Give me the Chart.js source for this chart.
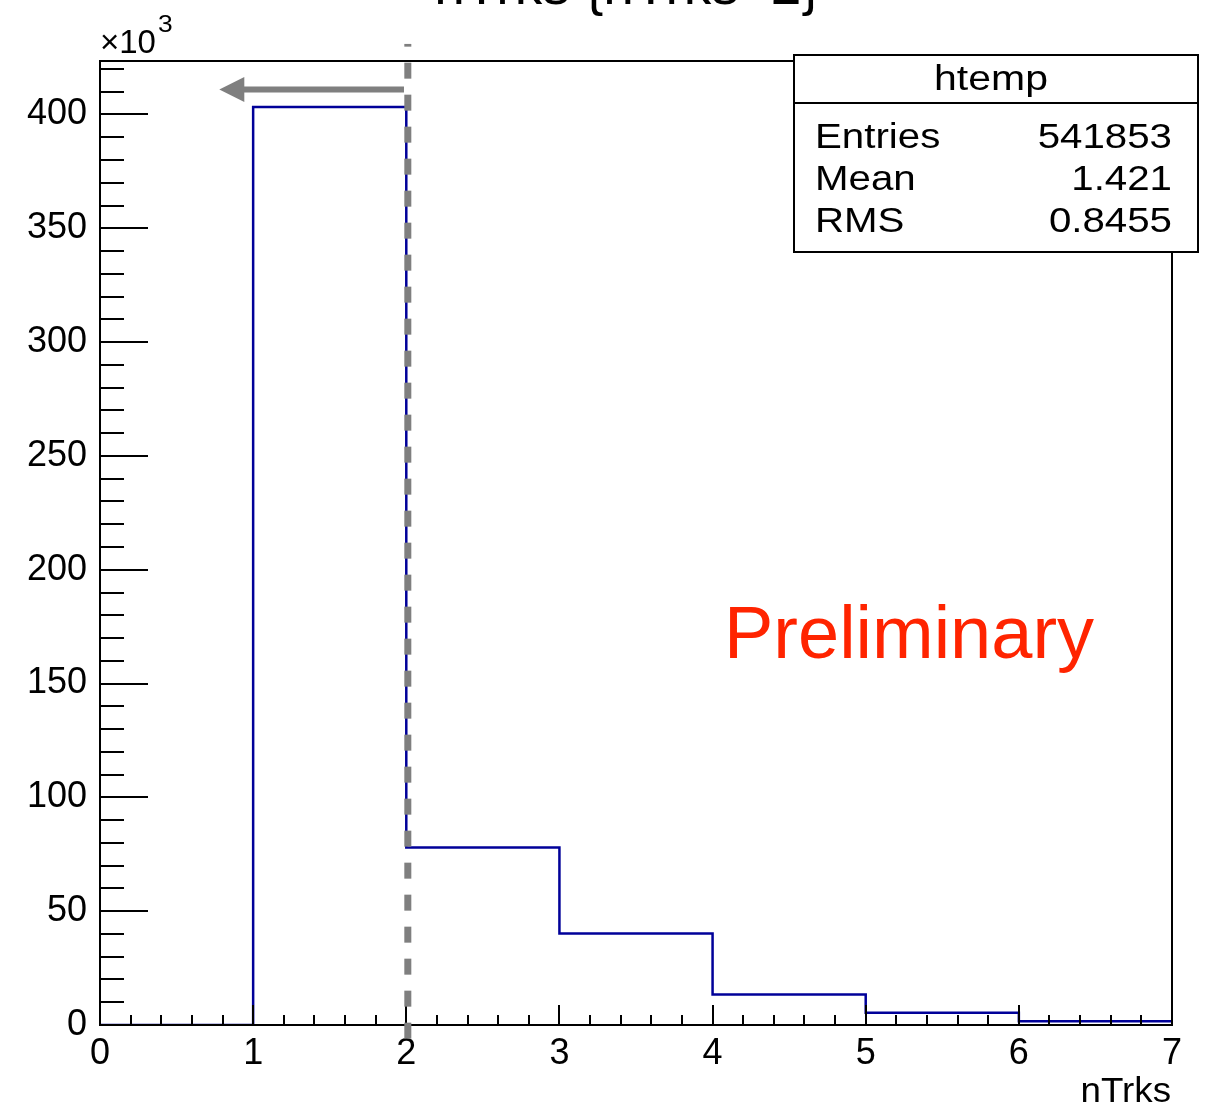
<!DOCTYPE html>
<html><head><meta charset="utf-8">
<script src="https://cdn.jsdelivr.net/npm/chart.js@4/dist/chart.umd.min.js"></script>
<style>html,body{margin:0;padding:0;background:#fff;}#wrap{width:1210px;height:1105px;}</style>
</head><body><div id="wrap"><canvas id="c" width="1210" height="1105"></canvas></div>
<script>
// ---- data ----
const binEdges = [0, 1, 2, 3, 4, 5, 6, 7];
const binCounts = [0, 403300, 78000, 40200, 13400, 5400, 1600];
const xTickLabels = ['0', '1', '2', '3', '4', '5', '6', '7'];
const yTickLabels = ['0', '50', '100', '150', '200', '250', '300', '350', '400'];
const yMax = 423500;
const yTickStep = 50000;
const yMinorStep = 10000;
const xMinorStep = 0.2;
const cutValue = 2.01;
const cutLineRange = [-6000, 431000];
const arrowXRange = [1.985, 0.779];
const arrowYValue = 411000;
const histName = 'htemp';
const statsLabels = ['Entries', 'Mean', 'RMS'];
const statsValues = ['541853', '1.421', '0.8455'];
const plotTitle = 'nTrks {nTrks<2}';
const xTitle = 'nTrks';
const yExponent = ['\u00d710', '3'];
const watermark = 'Preliminary';

// histogram outline points built from the bin arrays
const histPoints = binCounts.map((c, i) => ({x: binEdges[i], y: c}));
histPoints.push({x: binEdges[binEdges.length - 1], y: binCounts[binCounts.length - 1]});

const FONT = '"Liberation Sans", Arial, Helvetica, sans-serif';

function txt(ctx, s, x, y, size, align, sx, color) {
  ctx.save();
  ctx.font = size + 'px ' + FONT;
  ctx.fillStyle = color || '#000';
  ctx.textAlign = align;
  ctx.textBaseline = 'alphabetic';
  ctx.translate(x, y);
  ctx.scale(sx, 1);
  ctx.fillText(s, 0, 0);
  ctx.restore();
}

const decor = {
  id: 'decor',
  afterDatasetsDraw(chart) {
    const ctx = chart.ctx, a = chart.chartArea, xs = chart.scales.x, ys = chart.scales.y;
    ctx.save();
    ctx.strokeStyle = '#000';
    ctx.lineWidth = 2;
    ctx.lineCap = 'butt';
    // x ticks (inside)
    for (let i = 0; ; i++) {
      const v = xs.min + i * xMinorStep;
      if (v > xs.max + 1e-9) break;
      const px = Math.round(xs.getPixelForValue(v));
      const major = Math.abs(v - Math.round(v)) < 1e-6;
      const len = major ? 20 : 10;
      ctx.beginPath(); ctx.moveTo(px, a.bottom); ctx.lineTo(px, a.bottom - len); ctx.stroke();
    }
    // y ticks (inside)
    for (let i = 0; ; i++) {
      const v = ys.min + i * yMinorStep;
      if (v > ys.max + 1e-9) break;
      const py = Math.round(ys.getPixelForValue(v));
      const major = (i * yMinorStep) % yTickStep === 0;
      const len = major ? 48 : 24;
      ctx.beginPath(); ctx.moveTo(a.left, py); ctx.lineTo(a.left + len, py); ctx.stroke();
    }
    // frame
    ctx.strokeRect(a.left, a.top, a.right - a.left, a.bottom - a.top);
    ctx.restore();
  },
  afterDraw(chart) {
    const ctx = chart.ctx, xs = chart.scales.x, ys = chart.scales.y;
    ctx.save();
    // cut line (dashed)
    const cx = xs.getPixelForValue(cutValue);
    ctx.strokeStyle = '#7f7f7f';
    ctx.lineWidth = 7;
    ctx.setLineDash([16, 16]);
    ctx.beginPath();
    ctx.moveTo(cx, ys.getPixelForValue(cutLineRange[0]));
    ctx.lineTo(cx, ys.getPixelForValue(cutLineRange[1]));
    ctx.stroke();
    ctx.setLineDash([]);
    // arrow
    const ay = ys.getPixelForValue(arrowYValue);
    const x0 = xs.getPixelForValue(arrowXRange[0]);
    const x1 = xs.getPixelForValue(arrowXRange[1]);
    ctx.lineWidth = 6;
    ctx.beginPath(); ctx.moveTo(x0, ay); ctx.lineTo(x1 + 24, ay); ctx.stroke();
    ctx.fillStyle = '#7f7f7f';
    ctx.beginPath(); ctx.moveTo(x1, ay); ctx.lineTo(x1 + 25, ay - 12.5); ctx.lineTo(x1 + 25, ay + 12.5); ctx.closePath(); ctx.fill();
    // stats box
    const bx = 794, by = 55, bw = 404, bh = 197;
    ctx.fillStyle = '#fff';
    ctx.fillRect(bx, by, bw, bh);
    ctx.strokeStyle = '#000';
    ctx.lineWidth = 2;
    ctx.strokeRect(bx, by, bw, bh);
    ctx.beginPath(); ctx.moveTo(bx, 103); ctx.lineTo(bx + bw, 103); ctx.stroke();
    ctx.restore();
    txt(ctx, histName, 991, 90, 35, 'center', 1.17);
    const rowY = [148, 190, 232];
    statsLabels.forEach((l, i) => {
      txt(ctx, l, 815, rowY[i], 35, 'left', 1.15);
      txt(ctx, statsValues[i], 1172, rowY[i], 35, 'right', 1.15);
    });
    // title (mostly above the page)
    txt(ctx, plotTitle, 627, 4, 55, 'center', 1);
    // exponent
    txt(ctx, yExponent[0], 100, 52.7, 33, 'left', 1);
    txt(ctx, yExponent[1], 158, 31.7, 24, 'left', 1.1);
    // x axis title
    txt(ctx, xTitle, 1171, 1102, 35, 'right', 1.05);
    // watermark
    txt(ctx, watermark, 724, 658, 74, 'left', 1, '#ff2400');
  }
};

new Chart(document.getElementById('c').getContext('2d'), {
  type: 'line',
  data: {
    datasets: [{
      data: histPoints,
      stepped: 'before',
      borderColor: '#000099',
      borderWidth: 2.5,
      pointRadius: 0,
      fill: false,
      tension: 0
    }]
  },
  options: {
    responsive: false,
    animation: false,
    devicePixelRatio: 1,
    layout: {padding: {top: 61, right: 38, left: 0, bottom: 0}},
    plugins: {legend: {display: false}, tooltip: {enabled: false}, title: {display: false}},
    scales: {
      x: {
        type: 'linear', min: binEdges[0], max: binEdges[binEdges.length - 1],
        afterFit(s) { s.height = 80; },
        afterBuildTicks(s) { s.ticks = xTickLabels.map((_, i) => ({value: binEdges[i]})); },
        grid: {display: false, drawTicks: false, tickLength: 0},
        border: {display: false},
        ticks: {
          autoSkip: false, maxRotation: 0, padding: 7,
          color: '#000', font: {family: FONT, size: 36},
          callback: (v) => xTickLabels[Math.round(v)]
        }
      },
      y: {
        type: 'linear', min: 0, max: yMax,
        afterFit(s) { s.width = 100; },
        afterBuildTicks(s) { s.ticks = yTickLabels.map((_, i) => ({value: i * yTickStep})); },
        grid: {display: false, drawTicks: false, tickLength: 0},
        border: {display: false},
        ticks: {
          autoSkip: false, padding: 13,
          color: '#000', font: {family: FONT, size: 36},
          callback: (v) => yTickLabels[Math.round(v / yTickStep)]
        }
      }
    }
  },
  plugins: [decor]
});
</script>
</body></html>
